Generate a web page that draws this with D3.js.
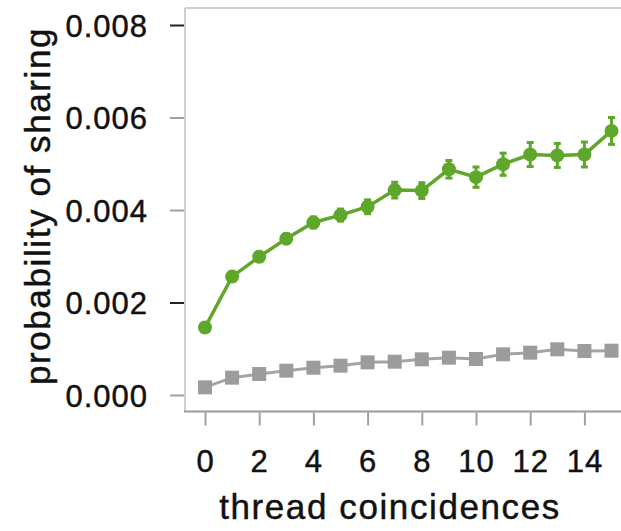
<!DOCTYPE html>
<html>
<head>
<meta charset="utf-8">
<script src="https://cdn.jsdelivr.net/npm/d3@7"></script>
<style>
  html, body { margin: 0; padding: 0; background: #fff; }
  svg { display: block; }
  text { font-family: "Liberation Sans", Arial, Helvetica, sans-serif; fill: #111; stroke: #111; stroke-width: 0.45px; }
</style>
</head>
<body>
<svg id="chart" width="621" height="531"></svg>
<script>
// ---- data ----
const threadCoincidences = [0,1,2,3,4,5,6,7,8,9,10,11,12,13,14,15];
const sharedProb = [0.00146,0.00256,0.00299,0.00338,0.00373,0.00389,0.00407,0.00443,0.00442,0.00488,0.00471,0.00499,0.00520,0.00518,0.00520,0.00571];
const sharedErr  = [0.00008,0.00010,0.00010,0.00010,0.00012,0.00013,0.00015,0.00017,0.00017,0.00019,0.00022,0.00024,0.00026,0.00026,0.00027,0.00029];
const baselineProb = [0.000166,0.000375,0.000454,0.000526,0.00059,0.000634,0.000706,0.00072,0.000771,0.000807,0.000778,0.00088,0.000915,0.000988,0.000951,0.000958];
const xTickValues = [0,2,4,6,8,10,12,14];
const yTickValues = [0.000,0.002,0.004,0.006,0.008];
const xTitle = "thread coincidences";
const yTitle = "probability of sharing";

// ---- layout ----
const svg = d3.select("#chart");
const frameLeft = 185, frameTop = 8, frameBottom = 411.5, frameRight = 640;
const x = d3.scaleLinear().domain([0, 15]).range([205, 611.5]);
const y = d3.scaleLinear().domain([0, 0.008]).range([395, 25]);
const green = "#5ea72b";
const gray = "#9c9c9c";

// frame (top & left light, bottom darker)
svg.append("line").attr("x1", frameLeft).attr("x2", frameRight).attr("y1", frameTop).attr("y2", frameTop)
  .attr("stroke", "#cfcfcf").attr("stroke-width", 2);
svg.append("line").attr("x1", frameLeft).attr("x2", frameLeft).attr("y1", frameTop).attr("y2", frameBottom)
  .attr("stroke", "#cfcfcf").attr("stroke-width", 2);
svg.append("line").attr("x1", frameLeft - 1).attr("x2", frameRight).attr("y1", frameBottom).attr("y2", frameBottom)
  .attr("stroke", "#999").attr("stroke-width", 2);

// x axis
const xAxis = d3.axisBottom(x).tickValues(xTickValues).tickSize(13).tickPadding(24).tickSizeOuter(0);
const gx = svg.append("g").attr("transform", `translate(0,${frameBottom + 1})`).call(xAxis);
gx.select(".domain").remove();
gx.selectAll(".tick line").attr("stroke", "#a0a0a0").attr("stroke-width", 2);
gx.selectAll(".tick text").attr("font-size", 31).attr("letter-spacing", "1px")
  .attr("fill", "#111").attr("dy", null).attr("y", 0)
  .attr("transform", "translate(0,59)");

// y axis
const yAxis = d3.axisLeft(y).tickValues(yTickValues).tickFormat(d3.format(".3f")).tickSize(14).tickPadding(22).tickSizeOuter(0);
const gy = svg.append("g").attr("transform", `translate(${frameLeft - 1},0)`).call(yAxis);
gy.select(".domain").remove();
gy.selectAll(".tick line")
  .attr("stroke", d => (d === 0.008 || d === 0.002) ? "#222" : "#a0a0a0")
  .attr("stroke-width", 2);
gy.selectAll(".tick text").attr("font-size", 31).attr("letter-spacing", "1px").attr("fill", "#111")
  .attr("dy", "0.36em");

// titles
svg.append("text").attr("x", 390).attr("y", 519).attr("text-anchor", "middle")
  .attr("font-size", 35).attr("letter-spacing", "1.6px").text(xTitle);
svg.append("text").attr("transform", "translate(50,206) rotate(-90)").attr("text-anchor", "middle")
  .attr("font-size", 35).attr("letter-spacing", "1.6px").text(yTitle);

// baseline series (gray squares)
const lineGen = (vals) => d3.line().x((d, i) => x(threadCoincidences[i])).y(d => y(d))(vals);
svg.append("path").attr("d", lineGen(baselineProb)).attr("fill", "none")
  .attr("stroke", "#a4a4a4").attr("stroke-width", 3);
svg.append("g").selectAll("rect").data(baselineProb).join("rect")
  .attr("x", (d, i) => x(threadCoincidences[i]) - 7)
  .attr("y", d => y(d) - 7)
  .attr("width", 14).attr("height", 14)
  .attr("fill", gray);

// shared series (green circles + error bars)
svg.append("path").attr("d", lineGen(sharedProb)).attr("fill", "none")
  .attr("stroke", green).attr("stroke-width", 3.5);
const eb = svg.append("g").attr("stroke", green).attr("stroke-width", 3);
sharedProb.forEach((v, i) => {
  const cx = x(threadCoincidences[i]);
  const y1 = y(v - sharedErr[i]), y2 = y(v + sharedErr[i]);
  eb.append("line").attr("x1", cx).attr("x2", cx).attr("y1", y1).attr("y2", y2);
  eb.append("line").attr("x1", cx - 3.5).attr("x2", cx + 3.5).attr("y1", y1).attr("y2", y1);
  eb.append("line").attr("x1", cx - 3.5).attr("x2", cx + 3.5).attr("y1", y2).attr("y2", y2);
});
svg.append("g").selectAll("circle").data(sharedProb).join("circle")
  .attr("cx", (d, i) => x(threadCoincidences[i]))
  .attr("cy", d => y(d))
  .attr("r", 7)
  .attr("fill", green);
</script>
</body>
</html>
